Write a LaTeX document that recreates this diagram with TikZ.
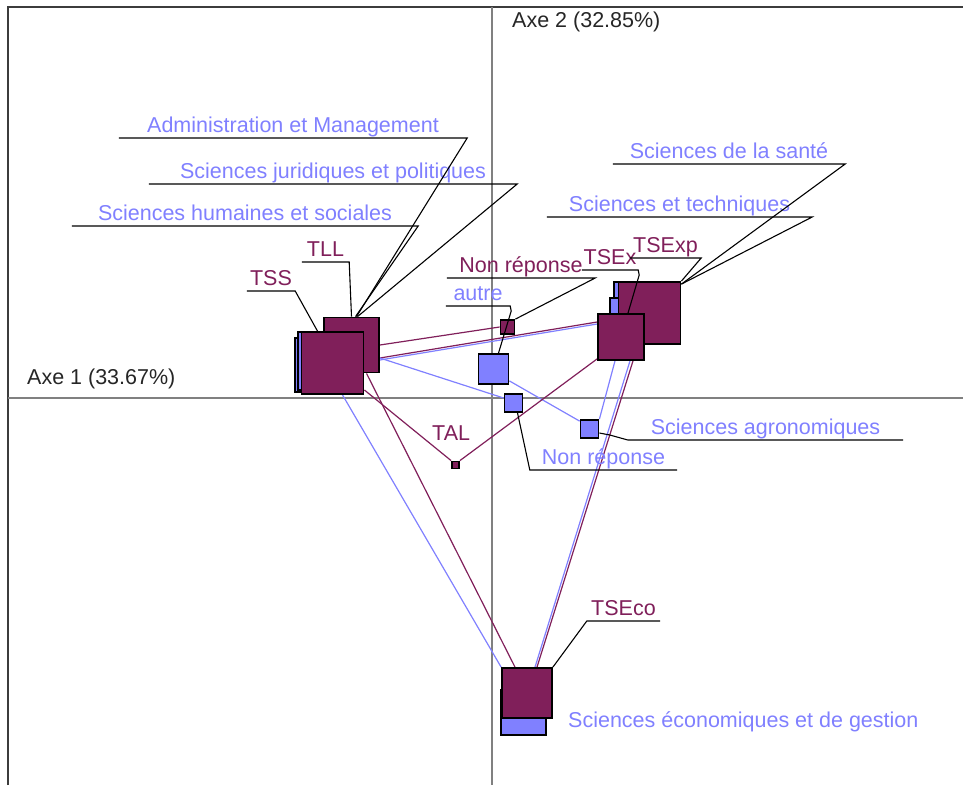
\documentclass[tikz,border=0pt]{standalone}
\usepackage{fontspec}
\setmainfont{Liberation Sans}
\pgfdeclarelayer{background}
\pgfsetlayers{background,main}
\definecolor{prune}{RGB}{128,31,90}
\definecolor{lavande}{RGB}{128,128,255}
\definecolor{cadre}{RGB}{60,60,60}
\definecolor{axegris}{RGB}{128,128,128}

\begin{document}
\begin{tikzpicture}[x=1pt,y=-1pt,
    psq/.style={draw=black,line width=1.8pt,fill=prune,inner sep=0pt},
    bsq/.style={draw=black,line width=1.8pt,fill=lavande,inner sep=0pt},
    plink/.style={prune,line width=1.2pt},
    blink/.style={lavande,line width=1.2pt},
    lead/.style={black,line width=1.1pt},
    lbl/.style={font=\fontsize{21.5}{24}\selectfont,text height=16pt,text depth=0pt,inner ysep=5pt,inner xsep=0pt,anchor=south},
    ptxt/.style={lbl,text=prune},
    btxt/.style={lbl,text=lavande},
    axtxt/.style={font=\fontsize{21.5}{24}\selectfont,text=black!85,inner sep=0pt,anchor=base west}]
    \useasboundingbox (0,0) rectangle (963,785);

    % points: formations (blue) below, series du bac (purple) on top
    \node[bsq,minimum size=52] (bSJP) at (350,346) {};
    \node[bsq,minimum size=54] (bSHS) at (322,365) {};
    \node[bsq,minimum size=58] (bAdm) at (327,361) {};
    \node[psq,minimum size=55] (pTLL) at (351.5,345) {};
    \node[psq,minimum size=62] (pTSS) at (332.5,363) {};
    \node[bsq,minimum size=60] (bSante) at (644,312) {};
    \node[bsq,minimum size=44] (bTech) at (632,320) {};
    \node[psq,minimum size=62] (pTSExp) at (649.5,313) {};
    \node[psq,minimum size=46] (pTSEx) at (621,337) {};
    \node[bsq,minimum size=45] (bSEG) at (523.5,712.5) {};
    \node[psq,minimum size=50] (pTSEco) at (527,693) {};
    \node[psq,minimum size=14] (pNR) at (507.5,327) {};
    \node[bsq,minimum size=30] (bAutre) at (493.5,369) {};
    \node[bsq,minimum size=18] (bNR) at (513.5,403) {};
    \node[bsq,minimum size=18] (bAgro) at (589.5,429) {};
    \node[psq,minimum size=7] (pTAL) at (455.5,465) {};

    \begin{pgfonlayer}{background}
      \draw[cadre,line width=2.5pt] (8,785) -- (8,7) -- (963,7);
      \draw[axegris,line width=1.3pt] (492,7) -- (492,785);
      \draw[axegris,line width=1.3pt] (8,398) -- (963,398);
      \draw[plink] (pTLL.east) -- (pNR.west);
      \draw[blink] ([yshift=-15pt]pTLL.east) -- ([yshift=13pt]pTSEx.west);
      \draw[plink] ([yshift=-13pt]pTLL.east) -- ([yshift=15pt]pTSEx.west);
      \draw[blink] ([yshift=10pt]pTSS.east) -- ([yshift=5pt]bNR.west);
      \draw[blink] ([yshift=4pt]bAutre.south east) -- ([yshift=-2pt]bAgro.north west);
      \draw[blink] ([xshift=-6pt]pTSEx.south) -- (bAgro.north east);
      \draw[blink] ([xshift=9pt]pTSEx.south) -- ([xshift=8pt]pTSEco.north);
      \draw[plink] ([xshift=12pt]pTSEx.south) -- ([xshift=10pt]pTSEco.north);
      \draw[plink] ([yshift=-27pt]pTSS.east) -- (pTAL.north west);
      \draw[plink] (pTAL.north east) -- ([yshift=2pt]pTSEx.south west);
      \draw[plink] ([xshift=15pt]pTLL.south) -- ([xshift=-12pt]pTSEco.north);
      \draw[blink] ([xshift=10pt]pTSS.south) -- (pTSEco.north west);
    \end{pgfonlayer}

    % labels with their leaders
    \node[btxt,minimum width=348] (tAdm) at (293,138) {Administration et Management};
    \node[btxt,minimum width=368] (tSJP) at (333,184) {Sciences juridiques et politiques};
    \node[btxt,minimum width=346] (tSHS) at (245,226) {Sciences humaines et sociales};
    \node[ptxt,minimum width=47] (tTLL) at (325.5,262) {TLL};
    \node[ptxt,minimum width=48] (tTSS) at (271,291) {TSS};
    \node[ptxt,minimum width=148] (tPNR) at (521,278) {Non réponse};
    \node[btxt,minimum width=64] (tAutre) at (478,306) {autre};
    \node[ptxt,minimum width=56] (tTSEx) at (610,270) {TSEx};
    \node[ptxt,minimum width=71] (tTSExp) at (665.5,258) {TSExp};
    \node[btxt,minimum width=232] (tSante) at (729,164) {Sciences de la santé};
    \node[btxt,minimum width=265] (tTech) at (679.5,217) {Sciences et techniques};
    \node[btxt,minimum width=275] (tAgro) at (765.5,440) {Sciences agronomiques};
    \node[btxt,minimum width=147] (tBNR) at (603.5,470) {Non réponse};
    \node[ptxt,minimum width=73] (tTSEco) at (623.5,621) {TSEco};
    \node[ptxt,anchor=base west,inner sep=0pt] (tTAL) at (432,440) {TAL};
    \node[btxt,anchor=base west,inner sep=0pt] (tSEG) at (568,727) {Sciences économiques et de gestion};
    \node[axtxt] (ax1) at (27,384) {Axe 1 (33.67\%)};
    \node[axtxt] (ax2) at (512,27) {Axe 2 (32.85\%)};

    \draw[lead] (tAdm.south west) -- (tAdm.south east) -- ([xshift=5pt]pTLL.north);
    \draw[lead] (tSJP.south west) -- (tSJP.south east) -- ([xshift=6pt]pTLL.north);
    \draw[lead] (tSHS.south west) -- (tSHS.south east) -- ([xshift=4pt]pTLL.north);
    \draw[lead] (tTLL.south west) -- (tTLL.south east) -- (pTLL.north);
    \draw[lead] (tTSS.south west) -- (tTSS.south east) -- ([xshift=-15pt]pTSS.north);
    \draw[lead] (tPNR.south west) -- (tPNR.south east) -- (pNR.north east);
    \draw[lead] (tAutre.south west) -- (tAutre.south east) -- ++(1,5) -- ([xshift=5pt]bAutre.north);
    \draw[lead] (tTSEx.south west) -- (tTSEx.south east) -- ++(1,5) -- ([xshift=7pt]pTSEx.north);
    \draw[lead] (tTSExp.south west) -- (tTSExp.south east) -- (pTSExp.north east);
    \draw[lead] (tSante.south west) -- (tSante.south east) -- ([yshift=-3pt]pTSExp.north east);
    \draw[lead] (tTech.south west) -- (tTech.south east) -- ([yshift=-3pt]pTSExp.north east);
    \draw[lead] (tAgro.south east) -- (tAgro.south west) -- ++(-18,-5) -- ([yshift=-4pt]bAgro.east);
    \draw[lead] (tBNR.south east) -- (tBNR.south west) -- ([xshift=4pt]bNR.south);
    \draw[lead] (tTSEco.south east) -- (tTSEco.south west) -- (pTSEco.north east);
\end{tikzpicture}
\end{document}
